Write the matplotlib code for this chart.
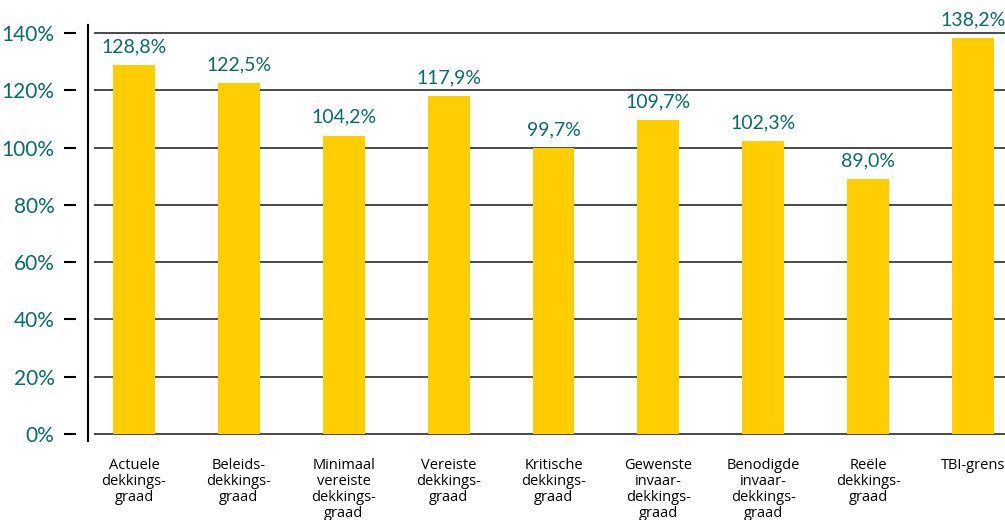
import numpy as np
import matplotlib.pyplot as plt

categorieen = ["Actuele\ndekkings-\ngraad", "Beleids-\ndekkings-\ngraad",
               "Minimaal\nvereiste\ndekkings-\ngraad", "Vereiste\ndekkings-\ngraad",
               "Kritische\ndekkings-\ngraad", "Gewenste\ninvaar-\ndekkings-\ngraad",
               "Benodigde\ninvaar-\ndekkings-\ngraad", "Reële\ndekkings-\ngraad",
               "TBI-grens"]
waarden = [128.8, 122.5, 104.2, 117.9, 99.7, 109.7, 102.3, 89.0, 138.2]
yticks = [0, 20, 40, 60, 80, 100, 120, 140]

geel = "#FFCD00"
groen = "#0B6B68"

fig = plt.figure(figsize=(10.05, 5.2), dpi=100)
ax = fig.add_axes([94 / 1005, 1 - 441 / 520, 1 - 94 / 1005, 416 / 520])

# spine eerst verplaatsen, anders worden de ticks later opnieuw aangemaakt
for s in ["top", "right", "bottom"]:
    ax.spines[s].set_visible(False)
ax.spines["left"].set_position(("outward", 13))
ax.spines["left"].set_visible(False)

x = np.arange(len(waarden))
ax.bar(x, waarden, width=0.4, color=geel, zorder=2)

for xi, v in zip(x, waarden):
    ax.annotate(f"{v:.1f}%".replace(".", ","), (xi, v), xytext=(0, 7),
                textcoords="offset points", ha="center", va="bottom",
                color=groen, fontsize=14, family="Lato")

ax.set_xlim(-40 / 105, 8 + 32 / 105)
ax.set_ylim(-7 / 2.864, 140 + 8 / 2.864)
ax.set_yticks(yticks)
ax.set_yticklabels([f"{t}%" for t in yticks], color=groen, fontsize=15, family="Lato")
ax.set_xticks(x)
ax.set_xticklabels(categorieen, fontsize=10.5, family="Open Sans", linespacing=1.1)
ax.tick_params(axis="x", length=0, pad=12)
ax.tick_params(axis="y", length=9, width=1.5, direction="out", pad=6.5)

# horizontale rasterlijnen
for t in yticks:
    ax.axhline(t, color="#4a4a4a", lw=1.4, zorder=1)

ax.plot([-6 / 911, -6 / 911], [0, 1], transform=ax.transAxes, color="black",
        lw=1.5, clip_on=False)

fig.savefig("out.png", dpi=100)
